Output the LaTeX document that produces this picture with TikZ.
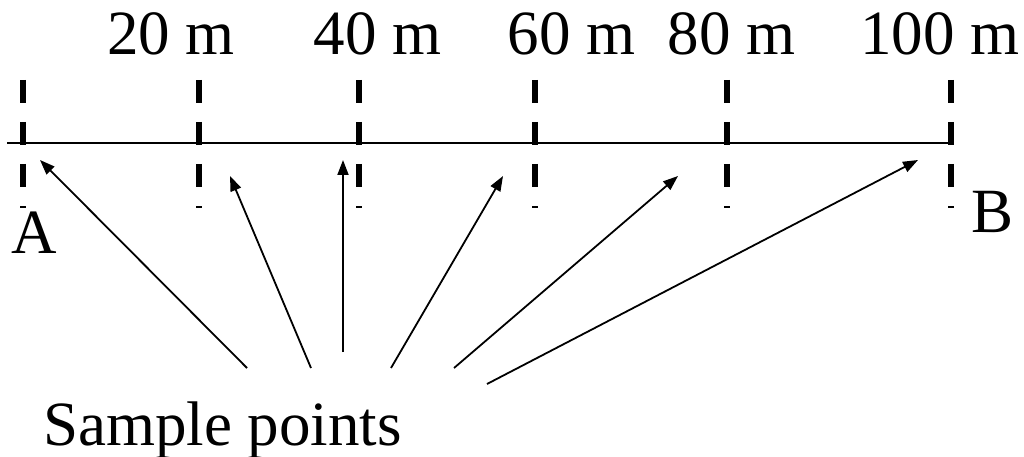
\documentclass[tikz,border=0pt]{standalone}
\usepackage{fontspec}
\setmainfont{Liberation Serif}
\usetikzlibrary{arrows.meta}

\begin{document}
\begin{tikzpicture}[
x=1pt, y=-1pt,
every node/.style={
    inner sep=0pt,
    anchor=base,
    font=\fontsize{63}{75}\selectfont
},
marker/.style={line width=6pt, dash pattern=on 23pt off 19pt},
pointer/.style={line width=1.8pt, -{Triangle[length=15pt,width=11pt]}}
]
\useasboundingbox (0,0) rectangle (1024,457);

%---------------- Transect ----------------
\coordinate (A0) at (7,143.5);
\coordinate (B0) at (953,143.5);
\draw[line width=2pt] (A0) -- (B0);

%---------------- Markers ----------------
\foreach \x [count=\i] in {23,199,359,535,727,951} {
    \coordinate (top\i) at (\x,80);
    \coordinate (bot\i) at (\x,207.5);
    \draw[marker] (top\i) -- (bot\i);
}

%---------------- Distances ----------------
\node (d20) at (171,55) {20 m};
\node (d40) at (377.5,55) {40 m};
\node (d60) at (571.5,55) {60 m};
\node (d80) at (731.5,55) {80 m};
\node (d100) at (940,55) {100 m};

\node (A) at (34,253) {A};
\node (B) at (992,232) {B};

%---------------- Sample points ----------------
\node (samples) at (222.5,445) {Sample points};

\foreach \tx/\ty/\hx/\hy [count=\i] in {247/368/40/160, 311/368/230/176,
    343/352/343/160, 391/368/503/176, 454/368/678/176, 487/384/918/160} {
    \coordinate (s\i) at (\tx,\ty);
    \coordinate (p\i) at (\hx,\hy);
    \draw[pointer] (s\i) -- (p\i);
}

\end{tikzpicture}
\end{document}
